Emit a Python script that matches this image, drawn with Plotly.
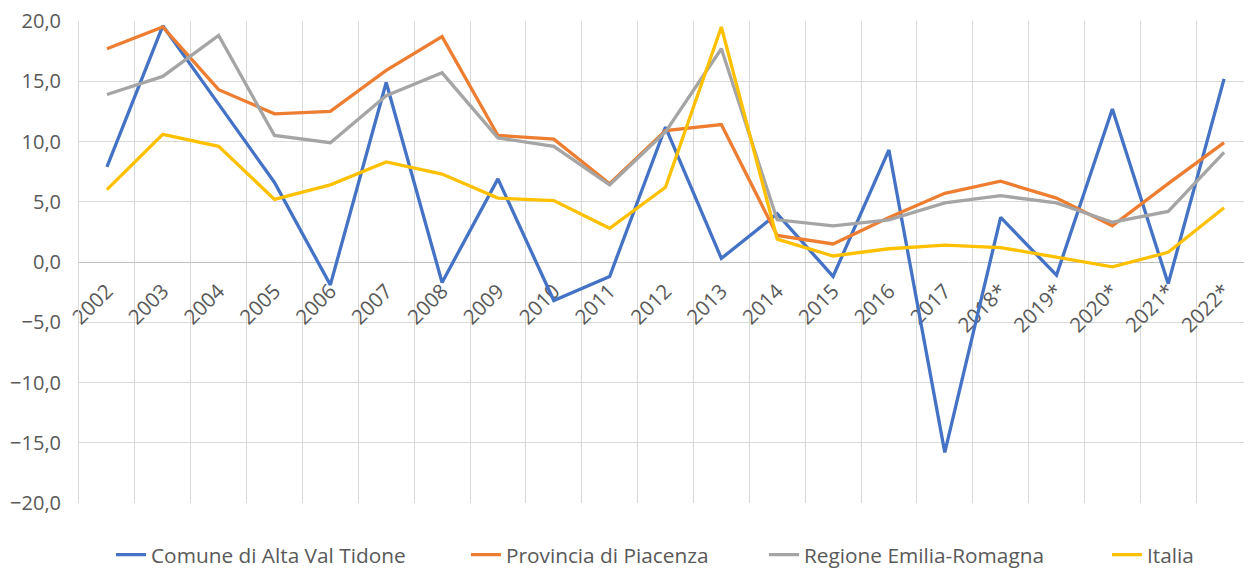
import plotly.graph_objects as go

years = ["2002", "2003", "2004", "2005", "2006", "2007", "2008", "2009", "2010", "2011",
         "2012", "2013", "2014", "2015", "2016", "2017", "2018*", "2019*", "2020*", "2021*", "2022*"]
comune = [7.9, 19.6, 13.1, 6.6, -1.9, 14.9, -1.7, 6.9, -3.2, -1.2, 11.2, 0.3, 4.0, -1.2, 9.3, -15.8, 3.7, -1.1, 12.7, -1.8, 15.2]
provincia = [17.7, 19.5, 14.3, 12.3, 12.5, 15.9, 18.7, 10.5, 10.2, 6.5, 10.9, 11.4, 2.2, 1.5, 3.7, 5.7, 6.7, 5.3, 3.0, 6.5, 9.9]
regione = [13.9, 15.4, 18.8, 10.5, 9.9, 13.8, 15.7, 10.3, 9.6, 6.4, 10.8, 17.7, 3.5, 3.0, 3.5, 4.9, 5.5, 4.9, 3.3, 4.2, 9.1]
italia = [6.0, 10.6, 9.6, 5.2, 6.4, 8.3, 7.3, 5.3, 5.1, 2.8, 6.2, 19.5, 1.9, 0.5, 1.1, 1.4, 1.2, 0.4, -0.4, 0.8, 4.5]

names = ["Comune di Alta Val Tidone", "Provincia di Piacenza", "Regione Emilia-Romagna", "Italia"]
series = [comune, provincia, regione, italia]
colors = ["#4472C4", "#ED7D31", "#A5A5A5", "#FFC000"]
legend_ids = ["legend", "legend2", "legend3", "legend4"]
legend_x = [0.0273, 0.3299, 0.5840, 0.8764]

FONT = "Open Sans"
TXT = "#595959"

fig = go.Figure()
for nm, vals, col, lid in zip(names, series, colors, legend_ids):
    fig.add_trace(go.Scatter(x=years, y=vals, name=nm, mode="lines",
                             line=dict(color=col, width=3.3), legend=lid))

layout_legends = {}
for lid, lx in zip(legend_ids, legend_x):
    layout_legends[lid] = dict(x=lx, xanchor="left", y=-0.108, yanchor="middle",
                               orientation="h", bgcolor="rgba(0,0,0,0)",
                               font=dict(family=FONT, size=20.8, color=TXT))

fig.update_layout(
    width=1244, height=562,
    margin=dict(l=71, r=0, t=13, b=67, autoexpand=False),
    paper_bgcolor="white", plot_bgcolor="white",
    separators=",.",
    font=dict(family=FONT, size=20.5, color=TXT),
    showlegend=True,
    **layout_legends,
)

fig.update_xaxes(
    type="category", categoryorder="array", categoryarray=years,
    range=[-0.5, len(years) - 0.5],
    tickson="boundaries", showgrid=True, gridcolor="#D9D9D9", gridwidth=1,
    anchor="free", position=0.5,
    showline=True, linecolor="#BFBFBF", linewidth=1,
    tickangle=-45, ticks="", ticklabelstandoff=8,
    tickfont=dict(family=FONT, size=20.5, color=TXT),
    layer="below traces", automargin=False,
)
fig.update_yaxes(
    range=[-20, 20], dtick=5, tick0=0, tickformat=".1f",
    showgrid=True, gridcolor="#D9D9D9", gridwidth=1,
    zeroline=False,
    showline=True, linecolor="#D9D9D9", linewidth=1,
    ticks="", ticklabelstandoff=13, ticklabeloverflow="allow",
    tickfont=dict(family=FONT, size=20, color=TXT),
    automargin=False,
)

fig.write_html("out.html")
